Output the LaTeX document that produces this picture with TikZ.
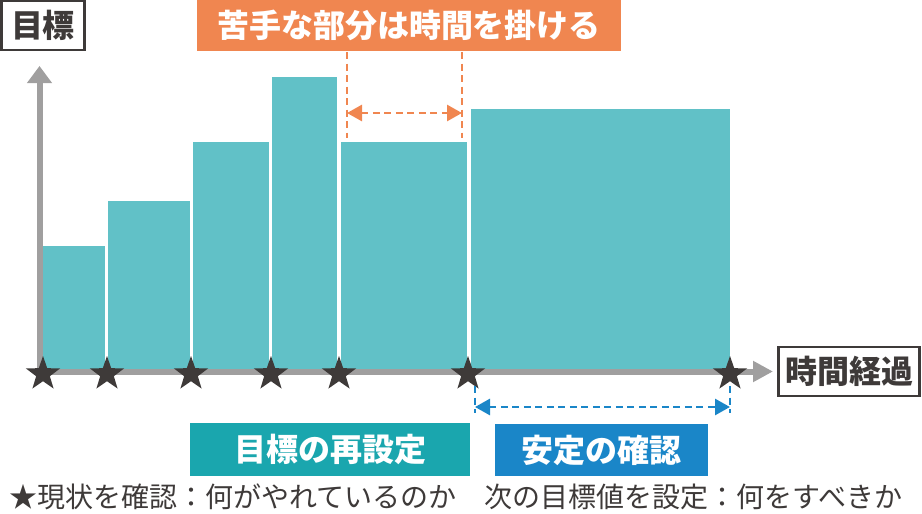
\documentclass[tikz,border=0pt]{standalone}
\usepackage{fontspec}
\newfontfamily\jp{Noto Sans CJK JP}
\usetikzlibrary{shapes.geometric,arrows.meta}
\definecolor{barc}{HTML}{61C1C7}
\definecolor{tealbox}{HTML}{1AA6AE}
\definecolor{bluec}{HTML}{1A86C8}
\definecolor{orangec}{HTML}{F08650}
\definecolor{axisc}{HTML}{A09F9F}
\definecolor{darkc}{HTML}{3E3A39}
\tikzset{
  bar/.style={fill=barc},
  starmark/.style={star, star points=5, star point ratio=2.5, minimum size=36pt, inner sep=0pt, fill=darkc},
  axisline/.style={draw=axisc, line width=6pt},
  labelbox/.style={draw=darkc, line width=2.5pt, fill=white, font=\jp\bfseries\fontsize{32}{32}\selectfont, text=darkc, inner sep=0pt, anchor=center},
  filledbox/.style={font=\jp\bfseries\fontsize{32}{32}\selectfont, text=white, inner sep=0pt, anchor=center},
  odash/.style={draw=orangec, line width=2.8pt, dash pattern=on 7pt off 4.5pt},
  bdash/.style={draw=bluec, line width=2.8pt, dash pattern=on 7pt off 4.5pt},
}
\begin{document}
\begin{tikzpicture}[x=1pt,y=-1pt]
\useasboundingbox (0,0) rectangle (922,514);
% bars
\fill[bar] (43,246) rectangle (105,369);
\fill[bar] (108,201) rectangle (190,369);
\fill[bar] (193,142) rectangle (269,369);
\fill[bar] (272,77) rectangle (337,369);
\fill[bar] (341,142) rectangle (467,369);
\fill[bar] (471,109) rectangle (730,369);
% axes
\coordinate (origin) at (39.5,374);
\coordinate (ytip) at (39.5,66);
\coordinate (xstart) at (36,371.5);
\coordinate (xtip) at (773,371.5);
\draw[axisline, -{Triangle[length=17pt,width=24pt]}] (origin) -- (ytip);
\draw[axisline, -{Triangle[length=20pt,width=20pt]}] (xstart) -- (xtip);
% labels
\node[labelbox, minimum width=83pt, minimum height=49pt] (goal) at (43,25.5) {目標};
\node[labelbox, minimum width=141pt, minimum height=49pt] (time) at (849,371.5) {時間経過};
\node[filledbox, fill=orangec, minimum width=424pt, minimum height=51pt] (hard) at (409,25.5) {苦手な部分は時間を掛ける};
\node[filledbox, fill=tealbox, minimum width=280pt, minimum height=53pt] (reset) at (330,449.5) {目標の再設定};
\node[filledbox, fill=bluec, minimum width=213pt, minimum height=52pt] (stable) at (601.5,450) {安定の確認};
% stars
\node[starmark] (s1) at (43,374) {};
\node[starmark] (s2) at (107,374) {};
\node[starmark] (s3) at (191,374) {};
\node[starmark] (s4) at (271,374) {};
\node[starmark] (s5) at (339,374) {};
\node[starmark] (s6) at (468,374) {};
\node[starmark] (s7) at (730,374) {};
% orange dimension
\coordinate (oa1) at (347,52);
\coordinate (oa2) at (347,138);
\coordinate (ob1) at (462,52);
\coordinate (ob2) at (462,138);
\coordinate (oal) at (347,113);
\coordinate (obr) at (462,113);
\draw[odash] (oa1) -- (oa2);
\draw[odash] (ob1) -- (ob2);
\draw[odash, {Triangle[length=15pt,width=16pt]}-{Triangle[length=15pt,width=16pt]}] (oal) -- (obr);
% blue dimension
\coordinate (ba1) at (475,386);
\coordinate (ba2) at (475,413);
\coordinate (bb1) at (730,386);
\coordinate (bb2) at (730,413);
\coordinate (bal) at (475,407);
\coordinate (bbr) at (730,407);
\draw[bdash] (ba1) -- (ba2);
\draw[bdash] (bb1) -- (bb2);
\draw[bdash, {Triangle[length=15pt,width=16pt]}-{Triangle[length=15pt,width=16pt]}] (bal) -- (bbr);
% bottom text
\node[font=\jp\fontsize{28}{28}\selectfont, text=darkc, inner sep=0pt, anchor=west] (note) at (9,497) {★現状を確認：何がやれているのか　次の目標値を設定：何をすべきか};
\end{tikzpicture}
\end{document}
